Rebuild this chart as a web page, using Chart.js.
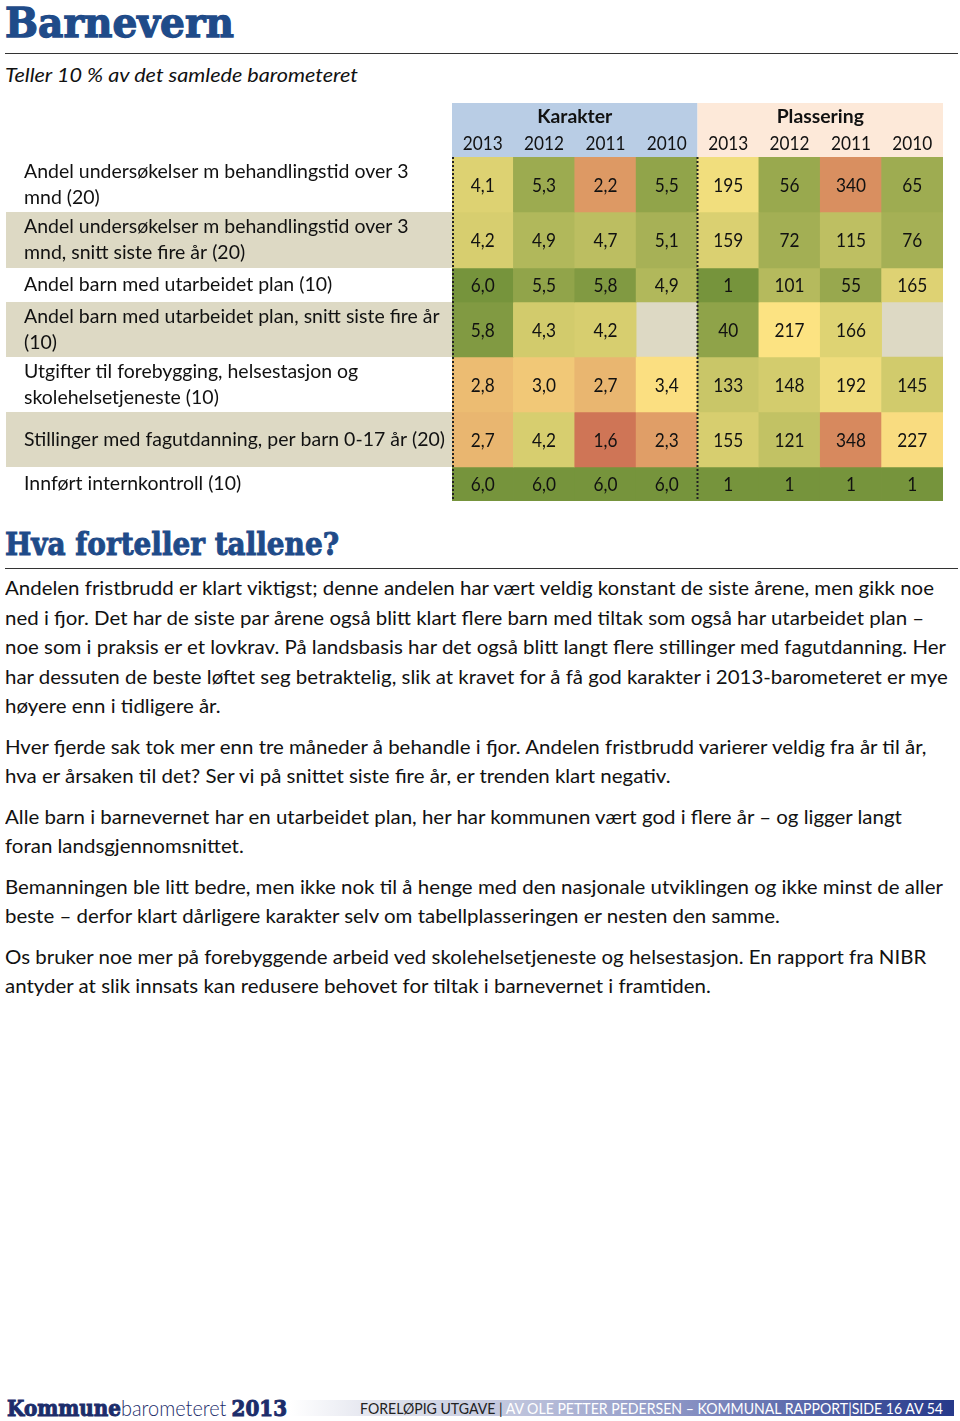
<!DOCTYPE html>
<html lang="no">
<head>
<meta charset="utf-8">
<title>Barnevern</title>
<script src="https://cdn.jsdelivr.net/npm/chart.js@4.4.1/dist/chart.umd.min.js"></script>
<style>
  html, body { margin: 0; padding: 0; background: #fff; }
  body { width: 960px; height: 1421px; position: relative; overflow: hidden;
         font-family: Lato, "Open Sans", sans-serif; color: #111; }
  .fit { position: absolute; white-space: nowrap; transform-origin: 0 0; display: inline-block; }
  .slab { font-family: "DejaVu Serif", serif; font-weight: bold; color: #1f4b89; -webkit-text-stroke: 1.3px #1f4b89; }
  .rule { position: absolute; left: 5px; width: 953px; height: 1px; background: #333; }
  #title { left: 5px; top: 3px; font-size: 41px; line-height: 41px; }
  #sub { left: 5px; top: 62px; font-size: 20px; line-height: 24px; font-style: italic; }
  #h2 { left: 5px; top: 528px; font-size: 32px; line-height: 32px; -webkit-text-stroke: 1px #1f4b89; }
  #chartBox { position: absolute; left: 0; top: 100px; }
  #body { position: absolute; left: 5px; top: 573px; transform-origin: 0 0; font-size: 19px; }
  #body p { margin: 0 0 11px 0; }
  #body span { display: block; height: 29.5px; line-height: 29.5px; white-space: nowrap; width: max-content; }
  #logo { left: 7px; top: 1396px; font-size: 22px; line-height: 24px; color: #1c2d6b; }
  #logo .k { font-family: "DejaVu Serif", serif; font-weight: bold; -webkit-text-stroke: 1px #1c2d6b; }
  #logo .b { font-family: Lato, sans-serif; font-weight: 300; }
  #band { position: absolute; left: 290px; top: 1400px; width: 664px; height: 16px;
          background: linear-gradient(to right, #ffffff 0%, #e4e6ef 12%, #c3c8de 32%, #8c95c5 58%, #4d5da4 82%, #26398a 100%); }
  #foot { left: 360px; top: 1399px; font-size: 15px; line-height: 18px; color: #fff; }
  #foot .d { color: #222; }
</style>
</head>
<body>
<div id="title" class="fit slab" data-w="229">Barnevern</div>
<div class="rule" style="top:53px"></div>
<div id="sub" class="fit" data-w="353">Teller 10 % av det samlede barometeret</div>

<div id="chartBox"><canvas id="tableChart" width="960" height="410"></canvas></div>

<div id="h2" class="fit slab" data-w="334">Hva forteller tallene?</div>
<div class="rule" style="top:568px"></div>

<div id="body">
  <p>
    <span id="firstLine">Andelen fristbrudd er klart viktigst; denne andelen har vært veldig konstant de siste årene, men gikk noe</span>
    <span>ned i fjor. Det har de siste par årene også blitt klart flere barn med tiltak som også har utarbeidet plan –</span>
    <span>noe som i praksis er et lovkrav. På landsbasis har det også blitt langt flere stillinger med fagutdanning. Her</span>
    <span>har dessuten de beste løftet seg betraktelig, slik at kravet for å få god karakter i 2013-barometeret er mye</span>
    <span>høyere enn i tidligere år.</span>
  </p>
  <p>
    <span>Hver fjerde sak tok mer enn tre måneder å behandle i fjor. Andelen fristbrudd varierer veldig fra år til år,</span>
    <span>hva er årsaken til det? Ser vi på snittet siste fire år, er trenden klart negativ.</span>
  </p>
  <p>
    <span>Alle barn i barnevernet har en utarbeidet plan, her har kommunen vært god i flere år – og ligger langt</span>
    <span>foran landsgjennomsnittet.</span>
  </p>
  <p>
    <span>Bemanningen ble litt bedre, men ikke nok til å henge med den nasjonale utviklingen og ikke minst de aller</span>
    <span>beste – derfor klart dårligere karakter selv om tabellplasseringen er nesten den samme.</span>
  </p>
  <p>
    <span>Os bruker noe mer på forebyggende arbeid ved skolehelsetjeneste og helsestasjon. En rapport fra NIBR</span>
    <span>antyder at slik innsats kan redusere behovet for tiltak i barnevernet i framtiden.</span>
  </p>
</div>

<div id="logo" class="fit" data-w="280"><span class="k">Kommune</span><span class="b">barometeret</span> <span class="k">2013</span></div>
<div id="band"></div>
<div id="foot" class="fit" data-w="583"><span class="d">FORELØPIG UTGAVE | </span>AV OLE PETTER PEDERSEN – KOMMUNAL RAPPORT|SIDE 16 AV 54</div>

<script>
const groups = ['Karakter', 'Plassering'];
const karakterYears = ['2013', '2012', '2011', '2010'];
const plasseringYears = ['2013', '2012', '2011', '2010'];

const indicators = [
    ['Andel undersøkelser m behandlingstid over 3', 'mnd (20)'],
    ['Andel undersøkelser m behandlingstid over 3', 'mnd, snitt siste fire år (20)'],
    ['Andel barn med utarbeidet plan (10)'],
    ['Andel barn med utarbeidet plan, snitt siste fire år', '(10)'],
    ['Utgifter til forebygging, helsestasjon og', 'skolehelsetjeneste (10)'],
    ['Stillinger med fagutdanning, per barn 0-17 år (20)'],
    ['Innført internkontroll (10)'],
];

// karakter 2013, 2012, 2011, 2010 per indicator
const karakter = [
    [4.1, 5.3, 2.2, 5.5],
    [4.2, 4.9, 4.7, 5.1],
    [6.0, 5.5, 5.8, 4.9],
    [5.8, 4.3, 4.2, null],
    [2.8, 3.0, 2.7, 3.4],
    [2.7, 4.2, 1.6, 2.3],
    [6.0, 6.0, 6.0, 6.0],
];

// plassering 2013, 2012, 2011, 2010 per indicator
const plassering = [
    [195, 56, 340, 65],
    [159, 72, 115, 76],
    [1, 101, 55, 165],
    [40, 217, 166, null],
    [133, 148, 192, 145],
    [155, 121, 348, 227],
    [1, 1, 1, 1],
];

// --- layout / style ---
const ROW_H = [55, 56, 34, 55, 55, 55, 34];
const SHADED = [false, true, false, true, false, true, false];
const HEADER_H = 54;
const LABEL_X = 24;
const FONT = 'Lato, "Open Sans", sans-serif';

const RED = [192, 82, 72], YEL = [253, 229, 131], GRN = [118, 148, 60];
function mix(a, b, f) {
    return 'rgb(' + a.map((c, i) => Math.round(c + (b[i] - c) * f)).join(',') + ')';
}
function scaleColor(t) { // 0 = worst, 1 = best
    return t < 0.5 ? mix(RED, YEL, t * 2) : mix(YEL, GRN, (t - 0.5) * 2);
}
const karColor = v => scaleColor((v - 1) / 5);
const plassColor = v => scaleColor(1 - (v - 1) / 427);

let acc = 0;
const rowBounds = ROW_H.map(h => { const b = [acc, acc + h]; acc += h; return b; });
const totalH = acc;

const columns = karakterYears.concat(plasseringYears);

const datasets = karakter.map((row, r) => {
    const vals = row.concat(plassering[r]);
    return {
        label: indicators[r].join(' '),
        values: vals,
        data: vals.map(v => v == null ? null : rowBounds[r]),
        backgroundColor: vals.map((v, i) => v == null ? 'rgba(0,0,0,0)' : (i < 4 ? karColor(v) : plassColor(v))),
        borderWidth: 0,
        grouped: false,
        barPercentage: 1,
        categoryPercentage: 1,
    };
});

function sText(ctx, s, x, y, align, sx) {
    ctx.save();
    ctx.translate(x, y);
    ctx.scale(sx, 1);
    ctx.textAlign = align;
    ctx.fillText(s, 0, 0);
    ctx.restore();
}

const tablePlugin = {
    id: 'tableDecor',
    beforeDatasetsDraw(chart) {
        const { ctx, chartArea: a, scales: { x, y } } = chart;
        const mid = (x.getPixelForValue(3) + x.getPixelForValue(4)) / 2;
        ctx.save();
        // shaded label rows
        ctx.fillStyle = '#ddd9c4';
        rowBounds.forEach((b, r) => {
            if (!SHADED[r]) return;
            const t = y.getPixelForValue(b[0]), btm = y.getPixelForValue(b[1]);
            ctx.fillRect(6, t, a.right - 6, btm - t);
        });
        // header blocks
        ctx.fillStyle = '#b9cde5';
        ctx.fillRect(a.left, a.top - HEADER_H, mid - a.left, HEADER_H);
        ctx.fillStyle = '#fde9d9';
        ctx.fillRect(mid, a.top - HEADER_H, a.right - mid, HEADER_H);

        ctx.fillStyle = '#111';
        ctx.textBaseline = 'middle';
        ctx.font = '19px ' + FONT;
        const numSx = 40 / ctx.measureText('2013').width;
        columns.forEach((c, i) => sText(ctx, c, x.getPixelForValue(i), a.top - 13, 'center', numSx));
        ctx.font = 'bold 19px ' + FONT;
        const hSx = 75 / ctx.measureText(groups[0]).width;
        sText(ctx, groups[0], (a.left + mid) / 2, a.top - 40, 'center', hSx);
        sText(ctx, groups[1], (mid + a.right) / 2, a.top - 40, 'center', hSx);

        // row labels
        ctx.font = '19px ' + FONT;
        const lSx = 421 / ctx.measureText(indicators[5][0]).width;
        indicators.forEach((lines, r) => {
            const cy = y.getPixelForValue((rowBounds[r][0] + rowBounds[r][1]) / 2);
            lines.forEach((s, k) => {
                sText(ctx, s, LABEL_X, cy + (k - (lines.length - 1) / 2) * 26, 'left', lSx);
            });
        });
        ctx.restore();
    },
    afterDatasetsDraw(chart) {
        const { ctx, chartArea: a, scales: { x } } = chart;
        ctx.save();
        ctx.fillStyle = '#111';
        ctx.textBaseline = 'middle';
        ctx.font = '19px ' + FONT;
        const numSx = 40 / ctx.measureText('2013').width;
        chart.data.datasets.forEach((ds, d) => {
            const meta = chart.getDatasetMeta(d);
            meta.data.forEach((bar, i) => {
                const v = ds.values[i];
                if (v == null) return;
                const s = i < 4 ? v.toFixed(1).replace('.', ',') : String(v);
                const cy = (bar.y + bar.base) / 2;
                sText(ctx, s, bar.x, cy + 1, 'center', numSx);
            });
        });
        // dotted separators
        const mid = (x.getPixelForValue(3) + x.getPixelForValue(4)) / 2;
        ctx.strokeStyle = '#222';
        ctx.lineWidth = 2;
        ctx.setLineDash([2, 2]);
        [a.left + 1, mid].forEach(px => {
            ctx.beginPath();
            ctx.moveTo(px, a.top);
            ctx.lineTo(px, a.bottom);
            ctx.stroke();
        });
        ctx.restore();
    }
};

new Chart(document.getElementById('tableChart'), {
    type: 'bar',
    data: { labels: columns, datasets: datasets },
    options: {
        responsive: false,
        animation: false,
        devicePixelRatio: 1,
        events: [],
        layout: { padding: { left: 452, right: 17, top: 57, bottom: 410 - 57 - totalH } },
        scales: {
            x: { type: 'category', display: false, offset: true, grid: { display: false } },
            y: { type: 'linear', display: false, reverse: true, min: 0, max: totalH }
        },
        plugins: { legend: { display: false }, tooltip: { enabled: false } }
    },
    plugins: [tablePlugin]
});

// squeeze text blocks to the widths of the printed page
document.querySelectorAll('[data-w]').forEach(el => {
    const w = el.getBoundingClientRect().width;
    el.style.transform = 'scaleX(' + (el.dataset.w / w) + ')';
});
const body = document.getElementById('body');
const k = 929 / document.getElementById('firstLine').getBoundingClientRect().width;
body.style.transform = 'scaleX(' + k + ')';
</script>
</body>
</html>
